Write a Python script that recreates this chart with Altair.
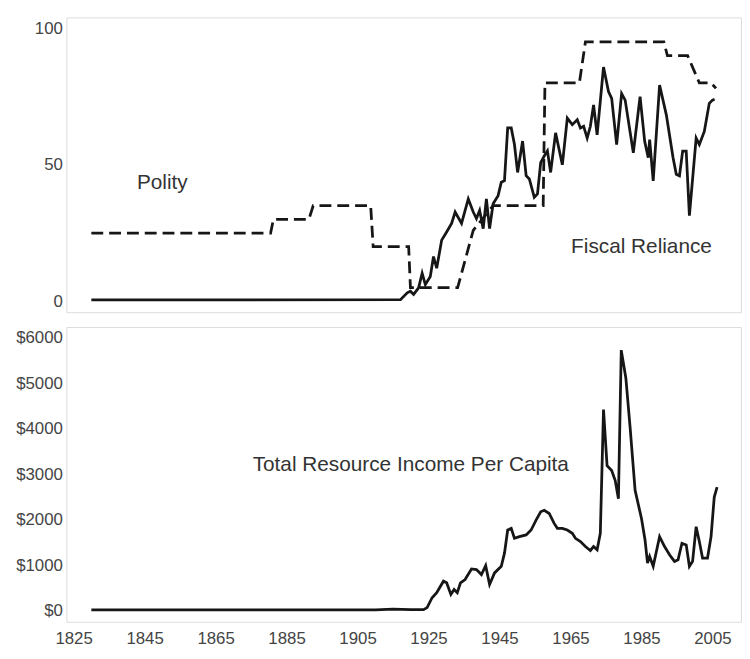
import altair as alt
import pandas as pd

# ---- data ----
fiscal_years = [1830, 1917.1, 1919.0, 1919.9, 1920.8, 1922.2, 1923.2, 1924.1, 1925.5, 1926.4,
                1927.3, 1928.7, 1930.1, 1931.5, 1932.5, 1934.3, 1936.2, 1937.6, 1938.5, 1939.4,
                1940.4, 1941.3, 1942.2, 1943.2, 1944.6, 1945.5, 1946.4, 1947.3, 1948.3, 1949.2,
                1950.1, 1951.5, 1952.5, 1953.4, 1954.8, 1955.7, 1956.6, 1957.6, 1958.5, 1959.4,
                1960.8, 1962.7, 1964.1, 1965.5, 1966.9, 1967.8, 1968.7, 1969.7, 1970.6, 1971.5,
                1972.5, 1974.3, 1975.7, 1976.6, 1978.0, 1979.4, 1980.4, 1982.7, 1984.6, 1985.9,
                1986.9, 1987.3, 1988.3, 1990.1, 1992.0, 1993.9, 1994.8, 1995.7, 1996.6, 1997.6,
                1998.5, 2000.4, 2001.3, 2002.7, 2004.1, 2005.0, 2005.6]
fiscal_values = [0.5, 0.6, 3.1, 3.7, 2.5, 4.9, 10.3, 6.1, 9.1, 16.4,
                 12.1, 22.4, 25.4, 28.5, 32.7, 28.5, 37.5, 32.7, 30.3, 33.3,
                 26.6, 37.5, 26.6, 35.7, 38.7, 43.6, 44.2, 63.5, 63.5, 57.5,
                 47.2, 58.7, 46.0, 44.8, 38.1, 39.3, 50.8, 53.2, 55.1, 47.2,
                 61.7, 50.0, 67.1, 64.7, 66.5, 63.5, 64.1, 59.8, 64.1, 71.9,
                 61.0, 85.8, 76.8, 74.3, 57.4, 76.1, 73.7, 54.4, 75.0, 58.6,
                 52.6, 59.2, 44.1, 79.2, 68.3, 52.6, 46.5, 45.9, 55.0, 55.0,
                 31.4, 59.8, 57.4, 62.2, 72.5, 73.7, 74.0]

polity_years = [1830, 1880.5, 1881.3, 1891.3, 1892.5, 1908.7, 1909.4, 1919.4, 1919.9, 1933.2,
                1937.6, 1943.2, 1957.3, 1957.8, 1967.5, 1969.2, 1991.3, 1992.3, 1998.0, 2001.3,
                2004.6, 2006.0]
polity_values = [25, 25, 30, 30, 35, 35, 20, 20, 5, 5,
                 26, 35, 35, 80, 80, 95, 95, 90, 90, 80,
                 80, 78]

income_years = [1830, 1910, 1915, 1920, 1923.6, 1924.6, 1926.0, 1927.3, 1929.2, 1930.1,
                1931.3, 1932.2, 1933.1, 1934.0, 1935.3, 1937.1, 1938.5, 1939.9, 1941.1, 1942.2,
                1943.6, 1945.5, 1946.4, 1947.3, 1948.3, 1949.2, 1950.6, 1952.5, 1953.9, 1955.3,
                1956.6, 1957.6, 1959.0, 1960.4, 1961.3, 1962.7, 1964.1, 1965.5, 1966.4, 1967.8,
                1969.2, 1970.6, 1971.5, 1972.5, 1973.4, 1974.3, 1975.3, 1976.6, 1977.6, 1978.5,
                1979.3, 1980.6, 1981.8, 1983.2, 1985.0, 1986.0, 1986.7, 1987.3, 1988.3, 1990.1,
                1991.5, 1992.9, 1994.3, 1995.3, 1996.4, 1997.6, 1998.5, 1999.4, 2000.4, 2001.3,
                2002.2, 2003.6, 2004.6, 2005.5, 2006.3]
income_values = [20, 22, 40, 30, 28, 73, 290, 399, 653, 617,
                 363, 472, 399, 617, 689, 922, 907, 798, 994, 581,
                 835, 980, 1270, 1778, 1814, 1596, 1633, 1669, 1778, 1995,
                 2177, 2213, 2141, 1923, 1814, 1814, 1778, 1705, 1596, 1524,
                 1415, 1328, 1415, 1342, 1705, 4426, 3193, 3084, 2866, 2467,
                 5732, 5115, 4027, 2649, 2032, 1560, 1052, 1197, 980, 1633,
                 1415, 1233, 1088, 1125, 1487, 1451, 980, 1088, 1850, 1524,
                 1161, 1161, 1633, 2503, 2721]

x_ticks = [1825, 1845, 1865, 1885, 1905, 1925, 1945, 1965, 1985, 2005]
top_ticks = [0, 50, 100]
bottom_ticks = [0, 1000, 2000, 3000, 4000, 5000, 6000]

labels_top = [("Polity", 1850, 43.4), ("Fiscal Reliance", 1985, 19.8)]
label_bottom = ("Total Resource Income Per Capita", 1920, 3215)

# ---- chart ----
FONT = "Liberation Sans"
LINE = "#161616"
TXT = "#333333"

fiscal_df = pd.DataFrame({"year": fiscal_years, "value": fiscal_values})
polity_df = pd.DataFrame({"year": polity_years, "value": polity_values})
income_df = pd.DataFrame({"year": income_years, "value": income_values})

x_scale = alt.Scale(domain=[1822.96, 2013.04], nice=False, zero=False)
y_top_scale = alt.Scale(domain=[-4, 104], nice=False, zero=False)
y_bot_scale = alt.Scale(domain=[-240, 6240], nice=False, zero=False)

y_axis_common = dict(ticks=False, domain=False, grid=False, labelPadding=4,
                     labelFontSize=17, labelColor="#444", labelFont=FONT,
                     minExtent=54, maxExtent=54, title=None)

fiscal_line = alt.Chart(fiscal_df).mark_line(color=LINE, strokeWidth=2.8, clip=True).encode(
    x=alt.X("year:Q", scale=x_scale, axis=None),
    y=alt.Y("value:Q", scale=y_top_scale, axis=alt.Axis(values=top_ticks, **y_axis_common)),
)
polity_line = alt.Chart(polity_df).mark_line(color=LINE, strokeWidth=2.8, strokeDash=[12, 6], clip=True).encode(
    x=alt.X("year:Q", scale=x_scale, axis=None),
    y=alt.Y("value:Q", scale=y_top_scale),
)
top_texts = [
    alt.Chart().mark_text(text=t, font=FONT, fontSize=21, color=TXT, align="center", baseline="middle").encode(
        x=alt.datum(xv), y=alt.datum(yv))
    for t, xv, yv in labels_top
]
top = alt.layer(fiscal_line, polity_line, *top_texts).properties(width=682, height=298)

income_line = alt.Chart(income_df).mark_line(color=LINE, strokeWidth=2.8, clip=True).encode(
    x=alt.X("year:Q", scale=x_scale,
            axis=alt.Axis(values=x_ticks, ticks=False, domain=False, grid=False, labelPadding=9,
                          labelFontSize=17, labelColor="#444", labelFont=FONT, title=None, format="d")),
    y=alt.Y("value:Q", scale=y_bot_scale,
            axis=alt.Axis(values=bottom_ticks, labelExpr="'$' + datum.value", **y_axis_common)),
)
bot_text = alt.Chart().mark_text(text=label_bottom[0], font=FONT, fontSize=21, color=TXT,
                                 align="center", baseline="middle").encode(
    x=alt.datum(label_bottom[1]), y=alt.datum(label_bottom[2]))
bottom = alt.layer(income_line, bot_text).properties(width=682, height=298)

chart = alt.vconcat(top, bottom, spacing=13).properties(
    padding={"left": 4, "top": 5, "right": 0, "bottom": 0}
).configure_view(stroke="#7a7a7a", strokeWidth=2).configure(background="white")

chart.save("out.html", embed_options={"renderer": "svg", "actions": False})
